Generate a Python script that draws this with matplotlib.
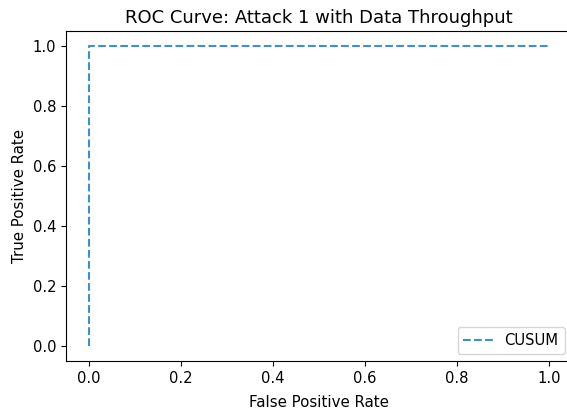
import matplotlib.pyplot as plt

# ROC points for the CUSUM detector
fpr = [0.0, 0.0, 1.0]
tpr = [0.0, 1.0, 1.0]

fig = plt.figure(figsize=(5.67, 4.12), dpi=100)
ax = fig.add_axes([0.1164, 0.1238, 0.8924, 0.801])

ax.plot(fpr, tpr, linestyle="--", color="#3f8fcc", linewidth=1.5, label="CUSUM")

ax.set_xticks([0.0, 0.2, 0.4, 0.6, 0.8, 1.0])
ax.set_yticks([0.0, 0.2, 0.4, 0.6, 0.8, 1.0])
ax.tick_params(labelsize=10.6)
ax.set_xlabel("False Positive Rate", fontsize=10.8, labelpad=7)
ax.set_ylabel("True Positive Rate", fontsize=10.8)
ax.set_title("ROC Curve: Attack 1 with Data Throughput", fontsize=13)
ax.legend(loc="lower right", fontsize=10.6)

fig.savefig("out.png", dpi=100)
